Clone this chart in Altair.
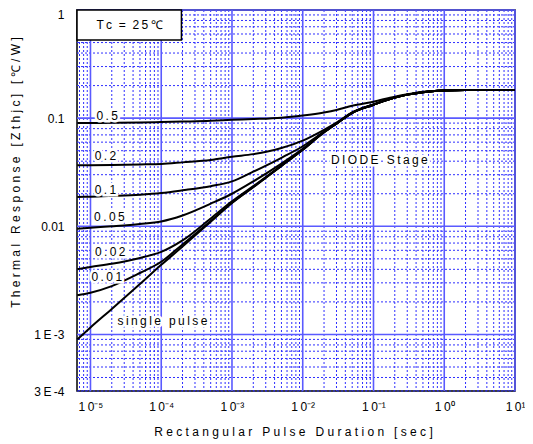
import json
import altair as alt
import pandas as pd

# ---------------- data ----------------
pulse_t = [6.5e-6, 1e-5, 2e-5, 5e-5, 1e-4, 2e-4, 5e-4, 1e-3, 2e-3, 5e-3, 1e-2,
           2e-2, 3e-2, 5e-2, 1e-1, 2e-1, 3e-1, 5e-1, 1, 2, 5, 10]

z_single = [0.00090, 0.00116, 0.00172, 0.00292, 0.0044, 0.0065, 0.0110, 0.0164, 0.0230, 0.0362, 0.0510,
            0.0740, 0.0890, 0.112, 0.133, 0.155, 0.165, 0.174, 0.180, 0.182, 0.182, 0.182]
z_001 = [0.0023, 0.00243, 0.0028, 0.0037, 0.0047, 0.0068, 0.0112, 0.0165, 0.0231, 0.0362, 0.0510,
         0.0740, 0.0890, 0.112, 0.133, 0.155, 0.165, 0.174, 0.180, 0.182, 0.182, 0.182]
z_002 = [0.0040, 0.0042, 0.0045, 0.0051, 0.0058, 0.0074, 0.0118, 0.0170, 0.0235, 0.0364, 0.0511,
         0.0740, 0.0890, 0.112, 0.133, 0.155, 0.165, 0.174, 0.180, 0.182, 0.182, 0.182]
z_005 = [0.0095, 0.0097, 0.0100, 0.0105, 0.0111, 0.0126, 0.0162, 0.0200, 0.0260, 0.0380, 0.0520,
         0.0742, 0.0891, 0.112, 0.133, 0.155, 0.165, 0.174, 0.180, 0.182, 0.182, 0.182]
z_01 = [0.0187, 0.0188, 0.0191, 0.0196, 0.0203, 0.0215, 0.0235, 0.0260, 0.0320, 0.0430, 0.0550,
        0.0750, 0.0893, 0.112, 0.133, 0.155, 0.165, 0.174, 0.180, 0.182, 0.182, 0.182]
z_02 = [0.0366, 0.0367, 0.0369, 0.0373, 0.0377, 0.0390, 0.0410, 0.0440, 0.0465, 0.0530, 0.0620,
        0.0780, 0.0910, 0.113, 0.134, 0.155, 0.165, 0.174, 0.180, 0.182, 0.182, 0.182]
z_05 = [0.0900, 0.0902, 0.0905, 0.0910, 0.0920, 0.0930, 0.0945, 0.0964, 0.0980, 0.1010, 0.1060,
        0.1130, 0.1190, 0.1300, 0.1420, 0.1580, 0.1660, 0.1750, 0.1800, 0.1820, 0.182, 0.182]

series_names = ["single pulse", "0.01", "0.02", "0.05", "0.1", "0.2", "0.5"]
series_vals = [z_single, z_001, z_002, z_005, z_01, z_02, z_05]

# curve labels (text, x, y in data units)
label_text = ["0.5", "0.2", "0.1", "0.05", "0.02", "0.01", "single pulse", "DIODE Stage"]
label_x = [1.72e-5, 1.63e-5, 1.63e-5, 1.85e-5, 1.9e-5, 1.7e-5, 1.04e-4, 0.121]
label_y = [0.105, 0.045, 0.0218, 0.0123, 0.00574, 0.00337, 0.00133, 0.0413]

x_domain = [6.45e-6, 10]
y_domain = [3e-4, 1]
x_tick_vals = [1e-5, 1e-4, 1e-3, 1e-2, 1e-1, 1, 10]
x_tick_text = ["1\u20090\u207b\u2075", "1\u20090\u207b\u2074", "1\u20090\u207b\u00b3",
               "1\u20090\u207b\u00b2", "1\u20090\u207b\u00b9", "1\u20090\u2070", "1\u20090\u00b9"]
y_tick_vals = [3e-4, 1e-3, 1e-2, 1e-1, 1]
y_tick_text = ["3\u2009E\u2009-4", "1\u2009E\u2009-3", "0.01", "0.1", "1"]

x_major = [1e-5, 1e-4, 1e-3, 1e-2, 1e-1, 1, 10]
y_major = [1e-3, 1e-2, 1e-1, 1]
x_minor = [m * 10.0 ** e for e in range(-6, 1) for m in range(2, 10)
           if x_domain[0] <= m * 10.0 ** e <= x_domain[1]]
y_minor = [m * 10.0 ** e for e in range(-4, 0) for m in range(2, 10)
           if y_domain[0] < m * 10.0 ** e < y_domain[1]]

box_x = [6.45e-6]
box_x2 = [1.93e-4]
box_y = [0.527]
box_y2 = [1.0]
box_text_x = [3.56e-5]
box_text_y = [0.724]
box_text = ["T\u2009c\u00a0\u00a0=\u00a0\u00a02\u20095\u2009\u2103"]


def spaced(s, sep=" "):
    words = s.split(" ")
    return (sep + "\u00a0" + sep).join(sep.join(list(w)) for w in words)


x_title = spaced("Rectangular Pulse Duration [sec]")
y_title = spaced("Thermal Response [Zthjc] [\u2103/W]")

# ---------------- tables ----------------
rows = []
for name, vals in zip(series_names, series_vals):
    for t, z in zip(pulse_t, vals):
        rows.append({"t": t, "z": z, "series": name})
curves = pd.DataFrame(rows)

labels = pd.DataFrame({"text": [spaced(s, "\u2009") for s in label_text],
                       "t": label_x, "z": label_y})
xmin_df = pd.DataFrame({"t": x_minor})
xmaj_df = pd.DataFrame({"t": x_major})
ymin_df = pd.DataFrame({"z": y_minor})
ymaj_df = pd.DataFrame({"z": y_major})
box_df = pd.DataFrame({"t": box_x, "t2": box_x2, "z": box_y, "z2": box_y2})
box_txt_df = pd.DataFrame({"t": box_text_x, "z": box_text_y, "text": box_text})

W, H = 438, 381
FONT = "Liberation Sans"

xs = alt.Scale(type="log", domain=x_domain, nice=False)
ys = alt.Scale(type="log", domain=y_domain, nice=False)

x_axis = alt.Axis(values=x_tick_vals, grid=False, ticks=False, domain=False,
                  labelExpr=json.dumps(x_tick_text) + "[round(log(datum.value)/LN10)+5]",
                  labelPadding=10, labelFontSize=12, labelFont=FONT, labelColor="black",
                  labelFlush=False, labelOverlap=False,
                  title=x_title, titleFont=FONT, titleFontSize=12, titleFontWeight="normal",
                  titleColor="black", titleX=W / 2 - 3, titleY=40, titleBaseline="middle")
y_axis = alt.Axis(values=y_tick_vals, grid=False, ticks=False, domain=False,
                  labelExpr=json.dumps(y_tick_text) + "[round(log(datum.value)/LN10)+4]",
                  labelPadding=13, labelFontSize=12, labelFont=FONT, labelColor="black",
                  labelFlush=False, labelOverlap=False,
                  labelBaseline={"condition": {"test": "datum.value >= 0.99", "value": "top"},
                                 "value": "middle"},
                  labelOffset={"condition": {"test": "datum.value >= 0.99", "value": -1},
                               "value": 0},
                  title=y_title, titleFont=FONT, titleFontSize=12, titleFontWeight="normal",
                  titleColor="black", titleX=-62, titleY=162, titleAngle=-90,
                  titleBaseline="middle", titleAlign="center")

X = lambda f="t": alt.X(f + ":Q", scale=xs, axis=x_axis)
Y = lambda f="z": alt.Y(f + ":Q", scale=ys, axis=y_axis)

minor_col = "#2f2fff"
major_col = "#5a5aff"

gx_min = alt.Chart(xmin_df).mark_rule(color=minor_col, strokeWidth=1, strokeDash=[2, 2]).encode(x=X())
gy_min = alt.Chart(ymin_df).mark_rule(color=minor_col, strokeWidth=1, strokeDash=[2, 2]).encode(y=Y())
gx_maj = alt.Chart(xmaj_df).mark_rule(color=major_col, strokeWidth=1.6).encode(x=X())
gy_maj = alt.Chart(ymaj_df).mark_rule(color=major_col, strokeWidth=1.6).encode(y=Y())

lines = alt.Chart(curves).mark_line(color="black", strokeWidth=2, interpolate="monotone").encode(
    x=X(), y=Y(), detail="series:N")

halo = alt.Chart(labels).mark_text(font=FONT, fontSize=12, color="white", stroke="white",
                                   strokeWidth=5, align="center", baseline="middle").encode(
    x=X(), y=Y(), text="text:N")
txt = alt.Chart(labels).mark_text(font=FONT, fontSize=12, color="black",
                                  align="center", baseline="middle").encode(
    x=X(), y=Y(), text="text:N")

box = alt.Chart(box_df).mark_rect(fill="white", stroke="black", strokeWidth=1.5).encode(
    x=X(), x2="t2:Q", y=Y(), y2="z2:Q")
box_txt = alt.Chart(box_txt_df).mark_text(font=FONT, fontSize=12, color="black",
                                          align="center", baseline="middle").encode(
    x=X(), y=Y(), text="text:N")

chart = alt.layer(gx_min, gy_min, gx_maj, gy_maj, lines, halo, txt, box, box_txt).properties(
    width=W, height=H,
    autosize=alt.AutoSizeParams(type="none"),
    padding={"left": 69, "top": 2, "right": 10, "bottom": 52},
    background="white",
).configure_view(stroke="black", strokeWidth=1.5)

chart.save("out.html", embed_options={"renderer": "svg", "actions": False})
